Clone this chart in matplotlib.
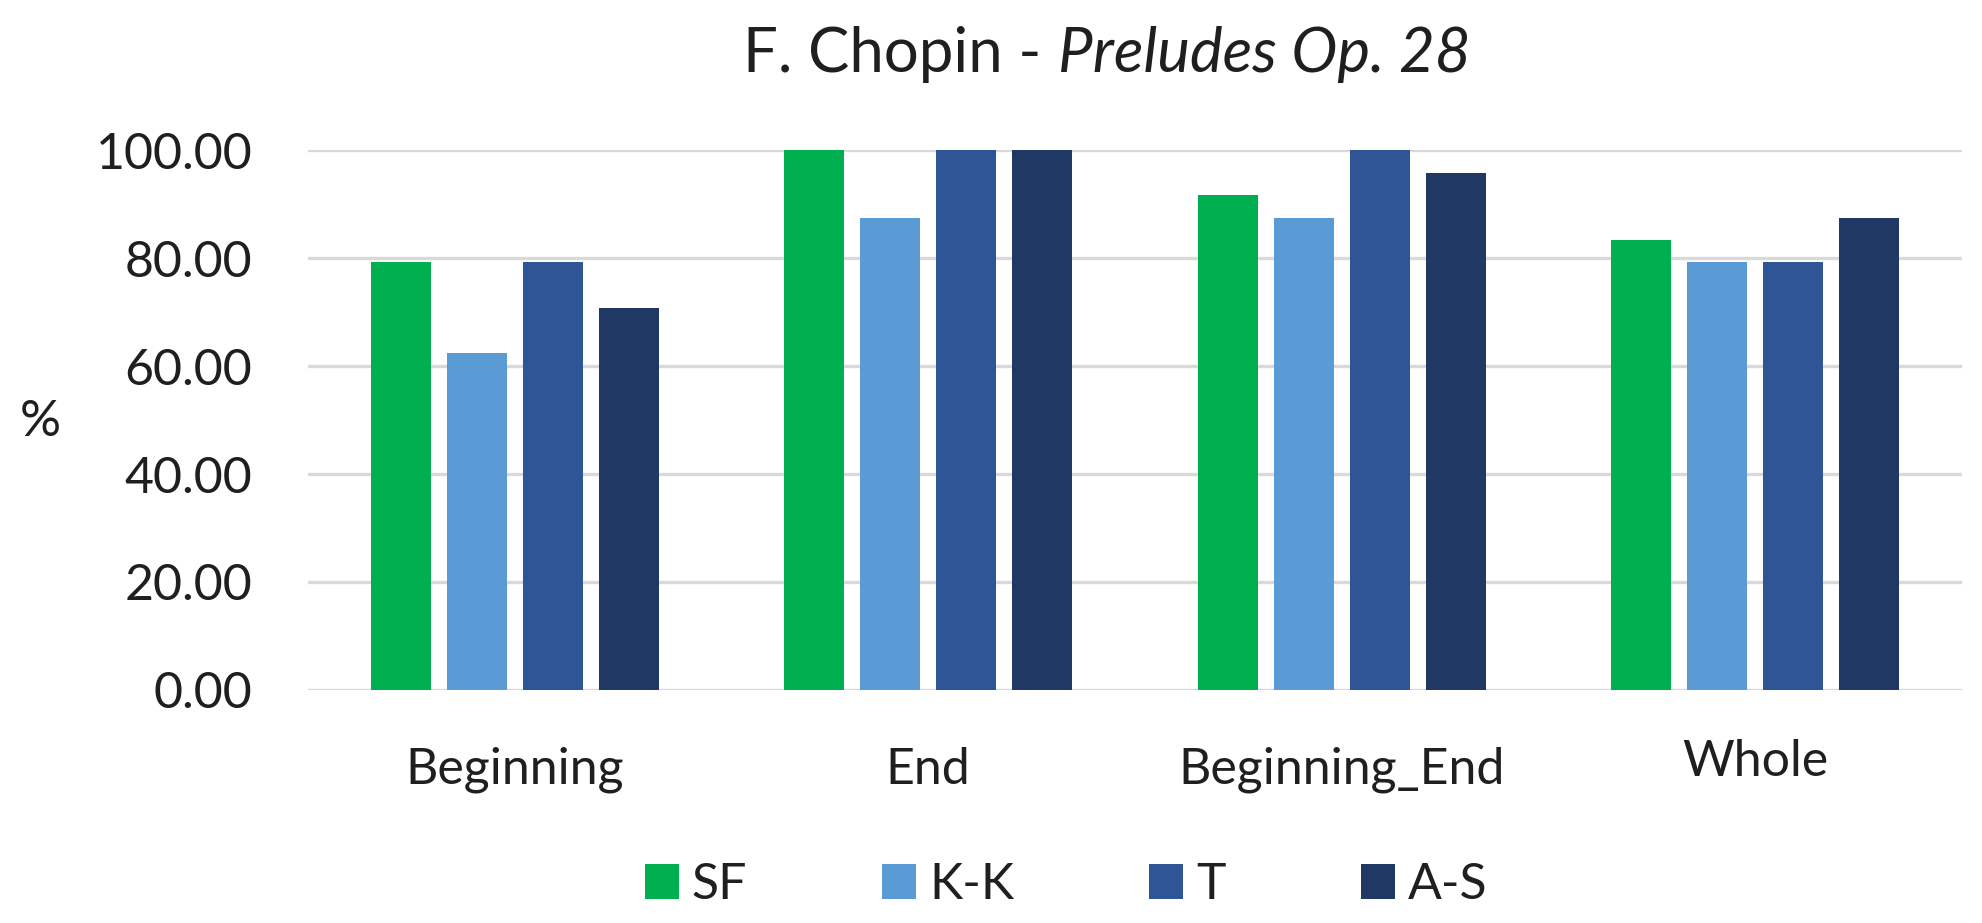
import matplotlib
matplotlib.use("Agg")
import matplotlib.pyplot as plt
import numpy as np

categories = ["Beginning", "End", "Beginning_End", "Whole"]
series_names = ["SF", "K-K", "T", "A-S"]
sf_values = [79.17, 100.00, 91.67, 83.33]
kk_values = [62.50, 87.50, 87.50, 79.17]
t_values = [79.17, 100.00, 100.00, 79.17]
as_values = [70.83, 100.00, 95.83, 87.50]
y_ticks = [0, 20, 40, 60, 80, 100]
colors = ["#00B050", "#5B9BD5", "#2F5597", "#203864"]

plt.rcParams['font.family'] = ['Lato', 'DejaVu Sans']

W, H = 1983, 923
TXT = "#1f1f1f"
fig = plt.figure(figsize=(W / 100, H / 100), dpi=100)
ax = fig.add_axes([308 / W, 1 - 690 / H, (1962 - 308) / W, (690 - 150) / H])

x = np.arange(len(categories))
pitch = 0.184
width = 0.145
all_vals = [sf_values, kk_values, t_values, as_values]
for i, (name, vals, c) in enumerate(zip(series_names, all_vals, colors)):
    ax.bar(x + (i - 1.5) * pitch, vals, width=width, color=c, label=name, zorder=3)

ax.set_xlim(-0.5, len(categories) - 0.5)
ax.set_ylim(0, 100)
ax.set_yticks(y_ticks)
ax.set_yticklabels([f"{v:.2f}" for v in y_ticks], fontsize=36, color=TXT)
ax.set_xticks(x)
ax.set_xticklabels(categories, fontsize=36, color=TXT)
ax.tick_params(axis='y', length=0, pad=40)
ax.tick_params(axis='x', length=0, pad=41)
ax.yaxis.grid(True, color="#d9d9d9", linewidth=2.4, zorder=0)
ax.set_axisbelow(True)
for s in ax.spines.values():
    s.set_visible(False)
# "Whole" sits slightly higher in the reference
ax.get_xticklabels()[3].set_y(8 / 540)

fig.text(40 / W, 1 - 422 / H, "%", fontsize=37, color=TXT, ha='center', va='center')

# Title with regular + italic parts
fig.canvas.draw()
r = fig.canvas.get_renderer()
yb = 1 - 72 / H
t1 = fig.text(0, yb, "F. Chopin -", fontsize=44.5, color=TXT, ha='left', va='baseline')
t2 = fig.text(0, yb, "Preludes Op. 28", fontsize=44.5, color=TXT, style='italic',
              ha='left', va='baseline')
w1 = t1.get_window_extent(r).width
w2 = t2.get_window_extent(r).width
gap = 17
total = w1 + gap + w2
x0 = 1107 - total / 2
t1.set_x(x0 / W)
t2.set_x((x0 + w1 + gap) / W)

leg = fig.legend(loc='center', bbox_to_anchor=(1066 / W, 1 - 885 / H), ncol=4, frameon=False,
                 fontsize=36, handlelength=0.68, handleheight=0.68, handletextpad=0.26,
                 columnspacing=2.7)
for t in leg.get_texts():
    t.set_color(TXT)

fig.savefig("out.png", dpi=100)
